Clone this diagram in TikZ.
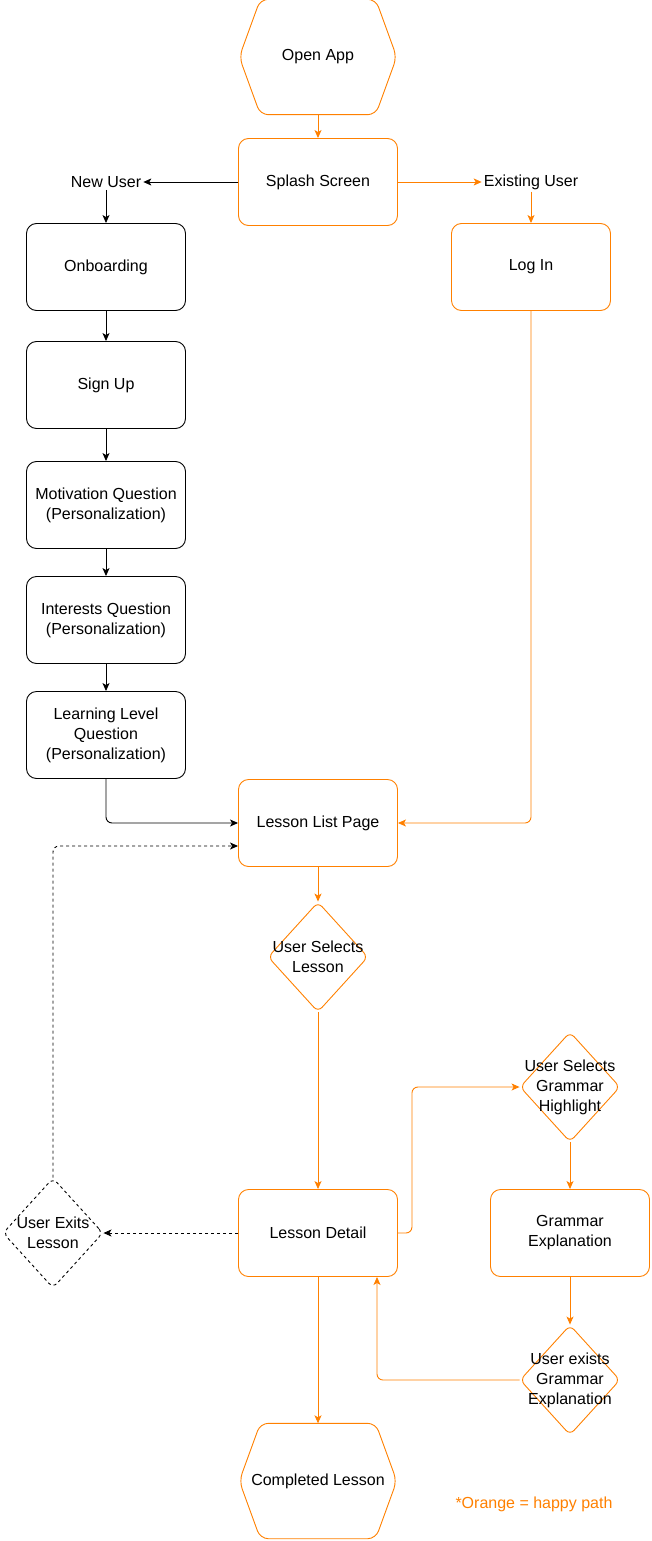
\documentclass[tikz,border=0pt]{standalone}
\usepackage{fontspec}
\setmainfont{Liberation Sans}
\usetikzlibrary{shapes.geometric,arrows.meta}
\definecolor{happy}{RGB}{255,128,0}

\tikzset{
  screen/.style={draw, rounded corners=10pt, minimum width=159pt, minimum height=87pt, align=center, line width=0.9pt},
  happyscreen/.style={screen, draw=happy},
  hexbox/.style={minimum width=157pt, minimum height=115pt, align=center},
  choice/.style={diamond, draw=happy, rounded corners=6pt, minimum width=100pt, minimum height=110pt, inner sep=0pt, line width=0.9pt},
  tag/.style={inner sep=2pt},
  flow/.style={->, line width=0.9pt, rounded corners=6pt},
  happyflow/.style={flow, draw=happy},
  dots/.style={dash pattern=on 3pt off 3pt},
}

\begin{document}
\begin{tikzpicture}[x=1pt, y=-1pt, >={Stealth[length=8pt,width=7pt,inset=2pt]}, font=\fontsize{16}{20}\selectfont]
\useasboundingbox (0,0) rectangle (652,1541);

% screens
\node[hexbox] (open) at (318,57) {Open App};
\node[happyscreen] (splash) at (318,182) {Splash Screen};
\node[tag] (new) at (106,182) {New User};
\node[tag] (existing) at (531,182) {Existing User};
\node[screen] (onboard) at (106,267) {Onboarding};
\node[happyscreen] (login) at (531,267) {Log In};
\node[screen] (signup) at (106,385) {Sign Up};
\node[screen] (motive) at (106,505) {Motivation Question\\(Personalization)};
\node[screen] (interest) at (106,620) {Interests Question\\(Personalization)};
\node[screen] (level) at (106,735) {Learning Level\\Question\\(Personalization)};
\node[happyscreen] (list) at (318,823) {Lesson List Page};
\node[happyscreen] (detail) at (318,1233) {Lesson Detail};
\node[happyscreen] (explain) at (570,1233) {Grammar\\Explanation};
\node[hexbox] (done) at (318,1481) {Completed Lesson};

% decisions
\node[choice, label={[align=center]center:{User Selects\\Lesson}}] (pick) at (318,957) {};
\node[choice, draw=black, dots, label={[align=center]center:{User Exits\\Lesson}}] (quit) at (53,1233) {};
\node[choice, label={[align=center]center:{User Selects\\Grammar\\Highlight}}] (gram) at (570,1087) {};
\node[choice, label={[align=center]center:{User exists\\Grammar\\Explanation}}] (leave) at (570,1380) {};

\node[text=happy] (legend) at (534,1504) {*Orange = happy path};

% hexagon outlines
\foreach \h in {open,done}
  \draw[happy, line width=0.9pt, rounded corners=8pt]
    ([xshift=21pt]\h.north west) -- ([xshift=-21pt]\h.north east) -- (\h.east)
    -- ([xshift=-21pt]\h.south east) -- ([xshift=21pt]\h.south west) -- (\h.west) -- cycle;

% new user path
\draw[flow] (splash) -- (new);
\draw[flow] (new) -- (onboard);
\draw[flow] (onboard) -- (signup);
\draw[flow] (signup) -- (motive);
\draw[flow] (motive) -- (interest);
\draw[flow] (interest) -- (level);
\draw[flow] (level.south) |- (list.west);

% happy path
\draw[happyflow] (open) -- (splash);
\draw[happyflow] (splash) -- (existing);
\draw[happyflow] (existing) -- (login);
\draw[happyflow] (login.south) |- (list.east);
\draw[happyflow] (list) -- (pick);
\draw[happyflow] (pick) -- (detail);
\draw[happyflow] (detail.east) -- ++(14,0) |- (gram.west);
\draw[happyflow] (gram) -- (explain);
\draw[happyflow] (explain) -- (leave);
\draw[happyflow] (leave.west) -| ([xshift=59pt]detail.south);
\draw[happyflow] (detail) -- (done);

% exit loop
\draw[flow, dots] (detail) -- (quit);
\draw[flow, dots] (quit.north) |- ([yshift=-23pt]list.west);

\end{tikzpicture}
\end{document}
